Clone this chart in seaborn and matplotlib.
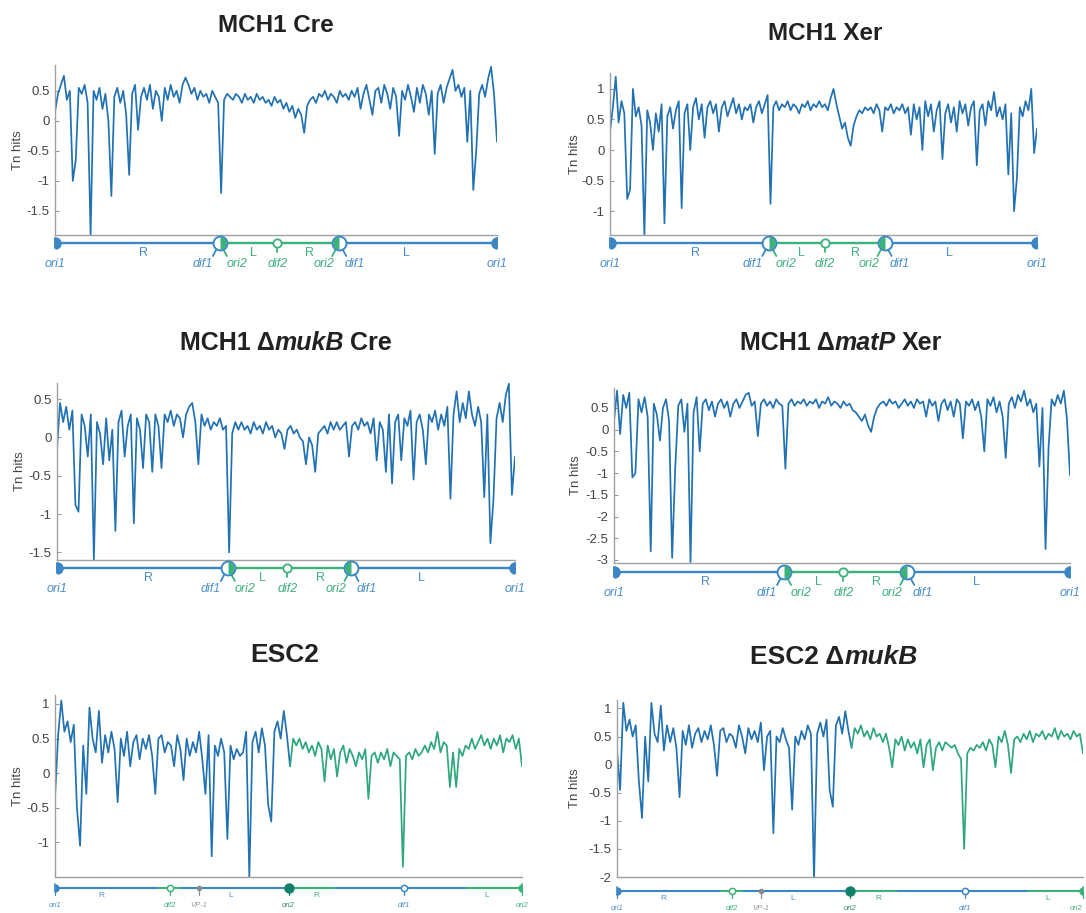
import numpy as np
import pandas as pd
import matplotlib.pyplot as plt
import seaborn as sns

# Tn hits along the chromosome
mch1_cre = [0.15, 0.45, 0.6, 0.75, 0.35, 0.5, -1.0, -0.65, 0.55, 0.45,
            0.6, 0.3, -1.9, 0.5, 0.35, 0.55, 0.2, 0.45, 0.0, -1.25,
            0.4, 0.55, 0.3, 0.5, 0.1, -0.9, 0.45, 0.6, -0.15, 0.4,
            0.55, 0.35, 0.6, 0.2, 0.5, 0.4, 0.0, 0.55, 0.35, 0.6,
            0.4, 0.5, 0.3, 0.6, 0.72, 0.6, 0.45, 0.55, 0.35, 0.5,
            0.4, 0.45, 0.3, 0.5, 0.4, 0.3, -1.2, 0.35, 0.45, 0.4,
            0.35, 0.45, 0.4, 0.3, 0.45, 0.35, 0.4, 0.3, 0.45, 0.35,
            0.4, 0.3, 0.35, 0.25, 0.4, 0.3, 0.35, 0.2, 0.3, 0.15,
            0.25, 0.05, 0.2, 0.1, -0.2, 0.25, 0.35, 0.4, 0.3, 0.45,
            0.4, 0.5, 0.35, 0.45, 0.4, 0.3, 0.5, 0.4, 0.45, 0.35,
            0.5, 0.4, 0.55, 0.2, 0.45, 0.6, 0.35, 0.1, 0.5, 0.55,
            0.3, 0.6, 0.45, 0.2, 0.55, 0.4, -0.25, 0.5, 0.35, 0.6,
            0.4, 0.15, 0.55, 0.3, 0.6, 0.45, 0.1, 0.5, -0.55, 0.45,
            0.6, 0.3, 0.55, 0.7, 0.85, 0.5, 0.6, 0.4, 0.55, -0.35,
            0.5, -1.15, -0.5, 0.45, 0.6, 0.4, 0.7, 0.9, 0.45, -0.35]

mch1_xer = [0.3, 0.7, 1.2, 0.45, 0.8, 0.6, -0.8, -0.65, 1.0, 0.55,
            0.7, 0.4, -1.4, 0.65, 0.45, 0.0, 0.6, 0.3, 0.75, -1.2,
            0.55, 0.7, 0.35, 0.65, 0.8, -0.95, 0.6, 0.75, 0.0, 0.7,
            0.85, 0.5, 0.75, 0.2, 0.7, 0.8, 0.6, 0.75, 0.3, 0.7,
            0.8, 0.55, 0.7, 0.85, 0.6, 0.75, 0.5, 0.7, 0.65, 0.75,
            0.45, 0.7, 0.8, 0.6, 0.75, 0.9, -0.88, 0.7, 0.8, 0.65,
            0.75, 0.7, 0.8, 0.65, 0.75, 0.7, 0.6, 0.75, 0.7, 0.8,
            0.65, 0.75, 0.7, 0.8, 0.7, 0.75, 0.65, 0.85, 1.0, 0.75,
            0.55, 0.35, 0.45, 0.2, 0.07, 0.4, 0.55, 0.65, 0.6, 0.7,
            0.65, 0.7, 0.6, 0.75, 0.65, 0.3, 0.7, 0.65, 0.75, 0.6,
            0.7, 0.65, 0.75, 0.6, 0.7, 0.25, 0.75, 0.5, 0.7, 0.0,
            0.8, 0.55, 0.75, 0.3, 0.65, 0.8, -0.15, 0.6, 0.75, 0.45,
            0.7, 0.3, 0.8, 0.6, 0.75, 0.4, 0.7, 0.8, -0.25, 0.65,
            0.75, 0.4, 0.8, 0.65, 0.95, 0.55, 0.7, 0.5, 0.75, -0.4,
            0.6, -1.0, -0.45, 0.7, 0.55, 0.8, 0.65, 1.0, -0.05, 0.35]

mukb_cre = [-0.15, 0.45, 0.2, 0.4, 0.1, 0.35, -0.88, -0.97, 0.3, 0.15,
            -0.25, 0.3, -1.6, 0.2, 0.05, -0.35, 0.25, -0.3, 0.1, -1.22,
            0.2, 0.35, -0.25, 0.15, 0.3, -1.12, 0.25, 0.1, -0.4, 0.3,
            0.2, -0.45, 0.3, 0.15, -0.4, 0.3, 0.2, 0.35, 0.15, 0.3,
            0.25, 0.0, 0.3, 0.4, 0.45, 0.2, -0.35, 0.3, 0.15, 0.25,
            0.1, 0.2, 0.15, 0.25, 0.1, 0.15, -1.5, 0.05, 0.2, 0.1,
            0.2, 0.1, 0.15, 0.05, 0.2, 0.1, 0.15, 0.05, 0.2, 0.1,
            0.15, 0.0, 0.1, 0.05, -0.15, 0.1, 0.15, 0.05, 0.1, 0.0,
            -0.05, -0.35, 0.0, -0.1, -0.45, 0.05, 0.1, 0.15, 0.05, 0.2,
            0.1, 0.2, 0.1, 0.15, 0.2, -0.25, 0.15, 0.2, 0.1, 0.25,
            0.15, 0.2, 0.05, 0.25, -0.3, 0.2, 0.1, -0.45, 0.3, -0.6,
            0.2, 0.3, -0.3, 0.25, 0.15, 0.35, -0.55, 0.2, 0.3, 0.1,
            -0.35, 0.3, 0.2, 0.35, 0.1, 0.3, 0.15, 0.4, -0.8, 0.3,
            0.6, 0.2, 0.45, 0.25, 0.6, 0.3, 0.15, 0.4, 0.2, -0.78,
            0.3, -1.38, -0.8, 0.25, 0.45, 0.2, 0.55, 0.7, -0.75, -0.25]

matp_xer = [0.2, 0.9, -0.1, 0.8, 0.5, 0.85, -1.1, -1.0, 0.7, 0.4,
            0.75, 0.3, -2.8, 0.6, 0.35, -0.25, 0.5, 0.7, 0.2, -2.95,
            -0.9, 0.55, 0.7, -0.05, 0.6, -3.05, 0.4, 0.75, -0.5, 0.6,
            0.7, 0.45, 0.65, 0.3, 0.6, 0.7, 0.5, 0.65, 0.3, 0.6,
            0.7, 0.5, 0.65, 0.8, 0.85, 0.55, 0.65, -0.15, 0.6, 0.7,
            0.55, 0.65, 0.5, 0.7, 0.6, 0.55, -0.9, 0.6, 0.7, 0.55,
            0.65, 0.6, 0.7, 0.55, 0.65, 0.6, 0.7, 0.5, 0.65, 0.6,
            0.75, 0.55, 0.65, 0.6, 0.5, 0.65, 0.55, 0.6, 0.45, 0.4,
            0.3, 0.2, 0.35, 0.1, -0.05, 0.3, 0.5, 0.6, 0.65, 0.55,
            0.7, 0.6, 0.65, 0.5, 0.6, 0.7, 0.55, 0.65, 0.5, 0.7,
            0.6, 0.65, 0.3, 0.7, 0.55, 0.65, 0.2, 0.6, 0.7, 0.45,
            0.65, 0.3, 0.7, 0.6, -0.2, 0.65, 0.55, 0.7, 0.45, 0.65,
            0.3, -0.5, 0.7, 0.55, 0.75, 0.4, 0.65, 0.3, -0.65, 0.6,
            0.75, 0.5, 0.8, 0.65, 0.9, 0.55, 0.7, 0.4, 0.6, -0.85,
            0.5, -2.75, -0.4, 0.7, 0.55, 0.8, 0.6, 0.9, 0.25, -1.05]

esc2 = [-0.35, 0.55, 1.05, 0.6, 0.75, 0.45, 0.7, -0.5, -1.05, 0.4,
        -0.3, 0.95, 0.5, 0.3, 0.9, 0.15, 0.55, 0.3, 0.6, 0.35,
        -0.42, 0.5, 0.25, 0.6, 0.1, 0.45, 0.55, 0.2, 0.5, 0.35,
        0.55, 0.25, -0.3, 0.5, 0.55, 0.3, 0.45, 0.4, 0.1, 0.55,
        0.35, -0.1, 0.5, 0.25, 0.45, 0.3, 0.6, 0.2, -0.3, 0.55,
        -1.2, 0.4, 0.25, 0.5, 0.3, -0.95, 0.4, 0.2, 0.35, 0.25,
        0.3, 0.6, -1.5, 0.45, 0.6, 0.3, 0.65, 0.4, -0.45, -0.7,
        0.6, 0.75, 0.5, 0.9, 0.55, 0.1, 0.5, 0.4, 0.5, 0.35,
        0.45, 0.3, 0.4, 0.25, 0.45, 0.35, -0.12, 0.4, 0.2, 0.35,
        -0.05, 0.3, 0.4, 0.15, 0.35, 0.25, 0.1, 0.3, 0.2, 0.35,
        -0.37, 0.25, 0.3, 0.15, 0.3, 0.2, 0.35, 0.1, 0.3, 0.25,
        0.2, -1.35, 0.25, 0.3, 0.2, 0.35, 0.25, 0.3, 0.4, 0.3,
        0.45, 0.35, 0.6, 0.3, 0.45, 0.4, -0.2, 0.3, -0.2, 0.35,
        0.25, 0.4, 0.35, 0.5, 0.35, 0.45, 0.55, 0.4, 0.5, 0.35,
        0.5, 0.4, 0.55, 0.3, 0.5, 0.45, 0.55, 0.35, 0.5, 0.1]

esc2_mukb = [0.25, -0.45, 1.1, 0.6, 0.8, 0.5, 0.7, -0.3, -0.95, 0.5,
             -0.3, 1.1, 0.55, 0.4, 1.05, 0.25, 0.7, 0.4, 0.65, 0.3,
             -0.58, 0.6, 0.35, 0.7, 0.3, 0.55, 0.65, 0.4, 0.6, 0.45,
             0.7, 0.35, -0.2, 0.6, 0.65, 0.4, 0.55, 0.5, 0.3, 0.7,
             0.5, 0.2, 0.65, 0.45, 0.6, 0.4, 0.75, -0.1, 0.5, 0.6,
             -1.22, 0.5, 0.4, 0.65, 0.45, 0.3, -0.8, 0.5, 0.35, 0.6,
             0.45, 0.7, 0.55, -2.05, 0.55, 0.75, 0.5, 0.8, -0.45, -0.75,
             0.7, 0.85, 0.55, 0.95, 0.6, 0.3, 0.65, 0.55, 0.7, 0.5,
             0.6, 0.45, 0.65, 0.5, 0.55, 0.4, 0.55, 0.3, -0.05, 0.45,
             0.35, 0.5, 0.25, 0.45, 0.3, 0.4, 0.2, 0.45, -0.05, 0.35,
             0.45, -0.1, 0.3, 0.4, 0.25, 0.4, 0.35, 0.3, 0.35, 0.2,
             0.1, -1.5, 0.2, 0.3, 0.25, 0.35, 0.3, 0.4, 0.25, 0.45,
             0.35, -0.05, 0.5, 0.4, 0.6, 0.35, -0.15, 0.45, 0.5, 0.4,
             0.55, 0.45, 0.6, 0.4, 0.55, 0.5, 0.6, 0.45, 0.55, 0.5,
             0.65, 0.45, 0.6, 0.5, 0.55, 0.45, 0.6, 0.5, 0.55, 0.2]

esc2_ori2_index = 75

# chromosome maps (relative positions along the x axis)
mch_segments = [(0.0, 0.373, 'blue'), (0.373, 0.643, 'green'), (0.643, 1.0, 'blue')]
mch_arms = [('R', 0.2, 'blue'), ('L', 0.449, 'green'), ('R', 0.575, 'green'), ('L', 0.795, 'blue')]
esc_segments = [(0.0, 0.22, 'blue'), (0.22, 0.27, 'green'), (0.27, 0.5, 'blue'),
                (0.5, 0.6, 'green'), (0.6, 0.88, 'blue'), (0.88, 1.0, 'green')]
esc_arms = [('R', 0.1, 'blue'), ('L', 0.377, 'blue'), ('R', 0.56, 'green'), ('L', 0.925, 'green')]
esc_sites = [('ori1', 0.0, 'blue'), ('dif2', 0.247, 'green'), ('VP-1', 0.309, 'gray'),
             ('ori2', 0.5, 'teal'), ('dif1', 0.747, 'blue'), ('ori2', 1.0, 'green')]

TRACE_BLUE = '#2271b3'
TRACE_GREEN = '#2ea77b'
COL = {'blue': '#3b86c5', 'green': '#3cb27b', 'gray': '#8a8a8a', 'teal': '#13806a'}
LAB = {'blue': '#4a8fcb', 'green': '#3fb07e', 'gray': '#999999', 'teal': '#2a8a70'}

sns.set_theme(style='white')
plt.rcParams['font.family'] = ['Liberation Sans', 'DejaVu Sans']
plt.rcParams['axes.unicode_minus'] = False

W, H = 1086, 913
fig = plt.figure(figsize=(W / 100, H / 100), dpi=100)
renderer = fig.canvas.get_renderer()


def rect(x0, y0, x1, y1):
    return [x0 / W, 1 - y1 / H, (x1 - x0) / W, (y1 - y0) / H]


def put_title(parts, xc, yc, size):
    items = []
    total = 0
    for s, style, gap in parts:
        t = fig.text(0, 1 - yc / H, s, fontsize=size, fontweight='bold', fontstyle=style,
                     ha='left', va='center', color='#222222')
        w = t.get_window_extent(renderer=renderer).width
        g = gap * size * 100 / 72
        items.append((t, w, g))
        total += w + g
    x = xc - total / 2
    for t, w, g in items:
        x += g
        t.set_x(x / W)
        x += w


def draw_trace(ax, vals, split=None):
    pos = np.arange(len(vals))
    if split is None:
        df = pd.DataFrame({'pos': pos, 'hits': vals, 'arm': 'a'})
    else:
        df = pd.concat([
            pd.DataFrame({'pos': pos[:split + 1], 'hits': vals[:split + 1], 'arm': 'a'}),
            pd.DataFrame({'pos': pos[split:], 'hits': vals[split:], 'arm': 'b'}),
        ])
    sns.lineplot(data=df, x='pos', y='hits', hue='arm', palette={'a': TRACE_BLUE, 'b': TRACE_GREEN},
                 estimator=None, sort=False, legend=False, lw=1.25, ax=ax)
    ax.set_xlim(0, len(vals) - 1)


def draw_mch_map(ax, width):
    ax.set_xlim(0, 1)
    ax.set_ylim(-28, 8)
    ax.axis('off')
    for a, b, c in mch_segments:
        ax.plot([a, b], [0, 0], color=COL[c], lw=1.7, solid_capstyle='butt')
    for x, side in [(0.0, 'right'), (1.0, 'left')]:
        ax.plot([x, x], [-5, 5], color=COL['blue'], lw=1.4, clip_on=False)
        ax.plot([x], [0], marker='o', ms=9, fillstyle=side, mfc=COL['blue'], mfcalt='none',
                mec='none', clip_on=False)
        ax.text(x, -21, 'ori1', ha='center', va='center', fontsize=9, style='italic', color=LAB['blue'])
    dx = 7 / width
    for x, fill, lc, rc in [(0.373, 'right', 'blue', 'green'), (0.643, 'left', 'green', 'blue')]:
        ax.plot([x - dx, x], [-13, 0], color=COL[lc], lw=1.3)
        ax.plot([x, x + dx], [0, -13], color=COL[rc], lw=1.3)
        ax.plot([x], [0], marker='o', ms=10, mfc='white', mec=COL['blue'], mew=1.4)
        ax.plot([x], [0], marker='o', ms=9, fillstyle=fill, mfc=COL['green'], mfcalt='none', mec='none')
    ax.text(0.357, -21, 'dif1', ha='right', va='center', fontsize=9, style='italic', color=LAB['blue'])
    ax.text(0.388, -21, 'ori2', ha='left', va='center', fontsize=9, style='italic', color=LAB['green'])
    ax.text(0.632, -21, 'ori2', ha='right', va='center', fontsize=9, style='italic', color=LAB['green'])
    ax.text(0.655, -21, 'dif1', ha='left', va='center', fontsize=9, style='italic', color=LAB['blue'])
    ax.plot([0.503, 0.503], [0, -9], color=COL['green'], lw=1.3)
    ax.plot([0.503], [0], marker='o', ms=6, mfc='white', mec=COL['green'], mew=1.3)
    ax.text(0.503, -21, 'dif2', ha='center', va='center', fontsize=9, style='italic', color=LAB['green'])
    for s, x, c in mch_arms:
        ax.text(x, -10, s, ha='center', va='center', fontsize=9, color=LAB[c])


def draw_esc_map(ax, last_ha):
    ax.set_xlim(0, 1)
    ax.set_ylim(-22, 6)
    ax.axis('off')
    for a, b, c in esc_segments:
        ax.plot([a, b], [0, 0], color=COL[c], lw=1.5, solid_capstyle='butt')
    for s, x, c in esc_sites:
        ax.plot([x, x], [0, -7], color=COL[c], lw=0.9, clip_on=False)
        if x == 0.0:
            ax.plot([x], [0], marker='o', ms=6, fillstyle='right', mfc=COL[c], mfcalt='none', mec='none', clip_on=False)
            ax.plot([x, x], [-4, 4], color=COL[c], lw=1.2, clip_on=False)
        elif x == 1.0:
            ax.plot([x], [0], marker='o', ms=6, fillstyle='left', mfc=COL[c], mfcalt='none', mec='none', clip_on=False)
            ax.plot([x, x], [-4, 4], color=COL[c], lw=1.2, clip_on=False)
        elif s == 'ori2':
            ax.plot([x], [0], marker='o', ms=6.5, mfc=COL[c], mec=COL[c])
        elif s == 'VP-1':
            ax.plot([x], [0], marker='o', ms=3, mfc=COL[c], mec=COL[c])
        else:
            ax.plot([x], [0], marker='o', ms=4.5, mfc='white', mec=COL[c], mew=1.1)
        ha = last_ha if x == 1.0 else 'center'
        ax.text(x, -17, s, ha=ha, va='center', fontsize=5.5, style='italic', color=LAB[c])
    for s, x, c in esc_arms:
        ax.text(x, -7, s, ha='center', va='center', fontsize=6, color=LAB[c])


panels = [
    dict(title=[('MCH1 Cre', 'normal', 0)], tx=276, ty=25, tsize=17.5, vals=mch1_cre, split=None,
         box=(55, 65, 497, 235), ylim=(-1.9, 0.93), ticks=[-1.5, -1, -0.5, 0, 0.5],
         kind='mch', map_y=243, lab_x=24),
    dict(title=[('MCH1 Xer', 'normal', 0)], tx=825, ty=33, tsize=17.5, vals=mch1_xer, split=None,
         box=(610, 73, 1037, 235), ylim=(-1.39, 1.26), ticks=[-1, -0.5, 0, 0.5, 1],
         kind='mch', map_y=243, lab_x=581),
    dict(title=[('MCH1 \u0394', 'normal', 0), ('mukB', 'italic', 0), ('Cre', 'normal', 0.25)],
         tx=286, ty=343, tsize=18, vals=mukb_cre, split=None,
         box=(57, 383, 515, 560), ylim=(-1.6, 0.71), ticks=[-1.5, -1, -0.5, 0, 0.5],
         kind='mch', map_y=568, lab_x=26),
    dict(title=[('MCH1 \u0394', 'normal', 0), ('matP', 'italic', 0), ('Xer', 'normal', 0.25)],
         tx=841, ty=343, tsize=18, vals=matp_xer, split=None,
         box=(614, 388, 1070, 563), ylim=(-3.07, 0.96),
         ticks=[-3, -2.5, -2, -1.5, -1, -0.5, 0, 0.5], kind='mch', map_y=572, lab_x=582),
    dict(title=[('ESC2', 'normal', 0)], tx=285, ty=655, tsize=19, vals=esc2, split=esc2_ori2_index,
         box=(55, 695, 522, 877), ylim=(-1.5, 1.13), ticks=[-1, -0.5, 0, 0.5, 1],
         kind='esc', map_y=888, lab_x=24, last_ha='center'),
    dict(title=[('ESC2 \u0394', 'normal', 0), ('mukB', 'italic', 0)], tx=834, ty=657, tsize=19,
         vals=esc2_mukb, split=esc2_ori2_index,
         box=(617, 700, 1083, 877), ylim=(-2.0, 1.15), ticks=[-2, -1.5, -1, -0.5, 0, 0.5, 1],
         kind='esc', map_y=891, lab_x=581, last_ha='right'),
]

for p in panels:
    x0, y0, x1, y1 = p['box']
    ax = fig.add_axes(rect(x0, y0, x1, y1))
    draw_trace(ax, p['vals'], p['split'])
    ax.set_ylim(*p['ylim'])
    ax.set_yticks(p['ticks'])
    ax.set_yticklabels(['{:g}'.format(t) for t in p['ticks']])
    ax.set_xticks([])
    ax.set_xlabel('')
    ax.set_ylabel('Tn hits', fontsize=9.5, color='#444444')
    ax.yaxis.set_label_coords(-(x0 - p['lab_x']) / (x1 - x0), 0.5)
    ax.tick_params(axis='y', direction='in', length=3, width=0.8, color='#999999',
                   labelsize=9.5, labelcolor='#444444', pad=4, left=True)
    for side in ['top', 'right']:
        ax.spines[side].set_visible(False)
    for side in ['left', 'bottom']:
        ax.spines[side].set_color('#a0a0a0')
        ax.spines[side].set_linewidth(1.0)

    my = p['map_y']
    if p['kind'] == 'mch':
        max_ = fig.add_axes(rect(x0, my - 8, x1, my + 28))
        draw_mch_map(max_, x1 - x0)
    else:
        max_ = fig.add_axes(rect(x0, my - 6, x1, my + 22))
        draw_esc_map(max_, p['last_ha'])

    put_title(p['title'], p['tx'], p['ty'], p['tsize'])

fig.savefig('out.png', dpi=100)
